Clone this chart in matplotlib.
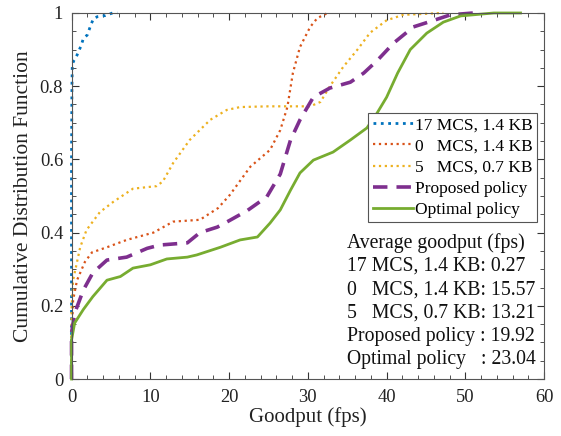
import numpy as np
import matplotlib

matplotlib.use('Agg')
import matplotlib.pyplot as plt
from matplotlib.ticker import MultipleLocator

plt.rcParams['font.family'] = ['Liberation Serif', 'DejaVu Serif']

# CDF curves (goodput in fps, cumulative probability)
x_17mcs = [0, 0, 0.05, 0.1, 0.3, 0.7, 1.2, 1.5, 2.0, 2.5, 2.8, 3.3, 4.3, 5.2, 5.8]
y_17mcs = [0, 0.6, 0.8, 0.86, 0.87, 0.885, 0.91, 0.93, 0.94, 0.97, 0.985, 0.99, 0.993, 1.0, 1.0]

x_0mcs = [0, 0, 0.2, 0.7, 1.7, 2.6, 4.5, 7.0, 10.4, 12.9, 16.3, 18.6, 20.1, 22.7,
          25.2, 26.5, 27.4, 28.1, 29.0, 30.3, 31.2, 32.5]
y_0mcs = [0, 0.107, 0.216, 0.27, 0.32, 0.346, 0.36, 0.38, 0.40, 0.43, 0.435, 0.467, 0.503, 0.58,
          0.626, 0.68, 0.743, 0.836, 0.907, 0.962, 0.986, 1.0]

x_5mcs = [0, 0, 0.2, 1.1, 1.9, 3.6, 5.3, 7.8, 10.8, 11.6, 12.9, 15.0, 17.6, 19.7, 21.4,
          25.0, 30.3, 31.6, 32.8, 34.5, 36.3, 37.9, 40.0, 42.1, 47.2]
y_5mcs = [0, 0.19, 0.27, 0.36, 0.407, 0.456, 0.484, 0.52, 0.527, 0.54, 0.59, 0.653, 0.708, 0.735, 0.743,
          0.745, 0.745, 0.757, 0.80, 0.853, 0.90, 0.946, 0.98, 0.995, 1.0]

x_prop = [0, 0, 0.4, 1.5, 2.7, 4.5, 7.0, 9.6, 11.2, 14.7, 16.3, 18.5, 19.8, 22.3, 24.8,
          26.5, 27.8, 29.0, 30.7, 32.8, 35.4, 37.1, 38.8, 40.9, 43.4, 46.0, 48.1, 51.0]
y_prop = [0, 0.125, 0.18, 0.243, 0.29, 0.325, 0.333, 0.357, 0.366, 0.372, 0.40, 0.415, 0.43, 0.46, 0.498,
          0.56, 0.653, 0.708, 0.77, 0.795, 0.811, 0.836, 0.87, 0.918, 0.962, 0.98, 0.995, 1.0]

x_opt = [0, 0, 0.4, 1.5, 2.7, 4.5, 6.2, 7.8, 10.0, 12.1, 14.7, 15.9, 18.9, 21.4, 23.6,
         25.2, 26.5, 27.8, 29.0, 30.7, 33.2, 35.4, 37.5, 38.8, 40.0, 41.4, 43.0, 45.1,
         47.2, 49.4, 53.6, 57.0]
y_opt = [0, 0.107, 0.153, 0.19, 0.225, 0.27, 0.28, 0.303, 0.312, 0.328, 0.333, 0.339, 0.36, 0.38, 0.388,
         0.426, 0.462, 0.516, 0.563, 0.598, 0.62, 0.653, 0.686, 0.727, 0.77, 0.836, 0.90, 0.945,
         0.975, 0.992, 1.0, 1.0]

legend_labels = ['17 MCS, 1.4 KB', '0   MCS, 1.4 KB', '5   MCS, 0.7 KB',
                 'Proposed policy', 'Optimal policy']

avg_lines = ['Average goodput (fps)',
             '17 MCS, 1.4 KB: 0.27',
             '0   MCS, 1.4 KB: 15.57',
             '5   MCS, 0.7 KB: 13.21',
             'Proposed policy : 19.92',
             'Optimal policy   : 23.04']

fig = plt.figure(figsize=(5.61, 4.36), dpi=100)
ax = fig.add_axes([0.1275, 0.1307, 0.8425, 0.8395])

ax.plot(x_17mcs, y_17mcs, ':', color='#0072BD', lw=2.0, label=legend_labels[0], clip_on=False)
ax.plot(x_0mcs, y_0mcs, ':', color='#D95319', lw=1.6, label=legend_labels[1], clip_on=False)
ax.plot(x_5mcs, y_5mcs, ':', color='#EDB120', lw=1.6, label=legend_labels[2], clip_on=False)
ax.plot(x_prop, y_prop, '--', color='#7E2F8E', lw=2.6, dashes=(4, 2.5), label=legend_labels[3],
        clip_on=False)
ax.plot(x_opt, y_opt, '-', color='#77AC30', lw=2.0, label=legend_labels[4], clip_on=False)

ax.set_xlim(0, 60)
ax.set_ylim(0, 1)
ax.xaxis.set_major_locator(MultipleLocator(10))
ax.xaxis.set_minor_locator(MultipleLocator(2))
ax.yaxis.set_major_locator(MultipleLocator(0.2))
ax.yaxis.set_minor_locator(MultipleLocator(0.05))
ax.set_yticks([0, 0.2, 0.4, 0.6, 0.8, 1.0])
ax.set_yticklabels(['0', '0.2', '0.4', '0.6', '0.8', '1'])

ax.tick_params(which='both', direction='in', top=True, right=True,
               colors='#333333', labelcolor='#222222', labelsize=13.3)
ax.tick_params(which='major', length=5, width=0.8)
ax.tick_params(which='minor', length=3, width=0.6)
ax.tick_params(axis='x', which='major', pad=7)
ax.tick_params(axis='y', which='major', pad=6)
for s in ax.spines.values():
    s.set_color('#555555')
    s.set_linewidth(0.8)

ax.set_xlabel('Goodput (fps)', fontsize=15, color='#222222', labelpad=1)
ax.set_ylabel('Cumulative Distribution Function', fontsize=15.5, color='#222222', labelpad=5)

leg = ax.legend(loc='upper left', bbox_to_anchor=(0.628, 0.7275), borderaxespad=0,
                fancybox=False, edgecolor='#555555', framealpha=1, fontsize=12.5,
                handlelength=2.3, handletextpad=0.15, labelspacing=0.29, borderpad=0.25)
leg.get_frame().set_linewidth(0.8)

for i, line in enumerate(avg_lines):
    ax.text(0.582, 0.372 - i * 0.064, line, transform=ax.transAxes,
            fontsize=14.2, va='center', ha='left', color='#111111')

plt.savefig('out.png', dpi=100)
plt.close(fig)
